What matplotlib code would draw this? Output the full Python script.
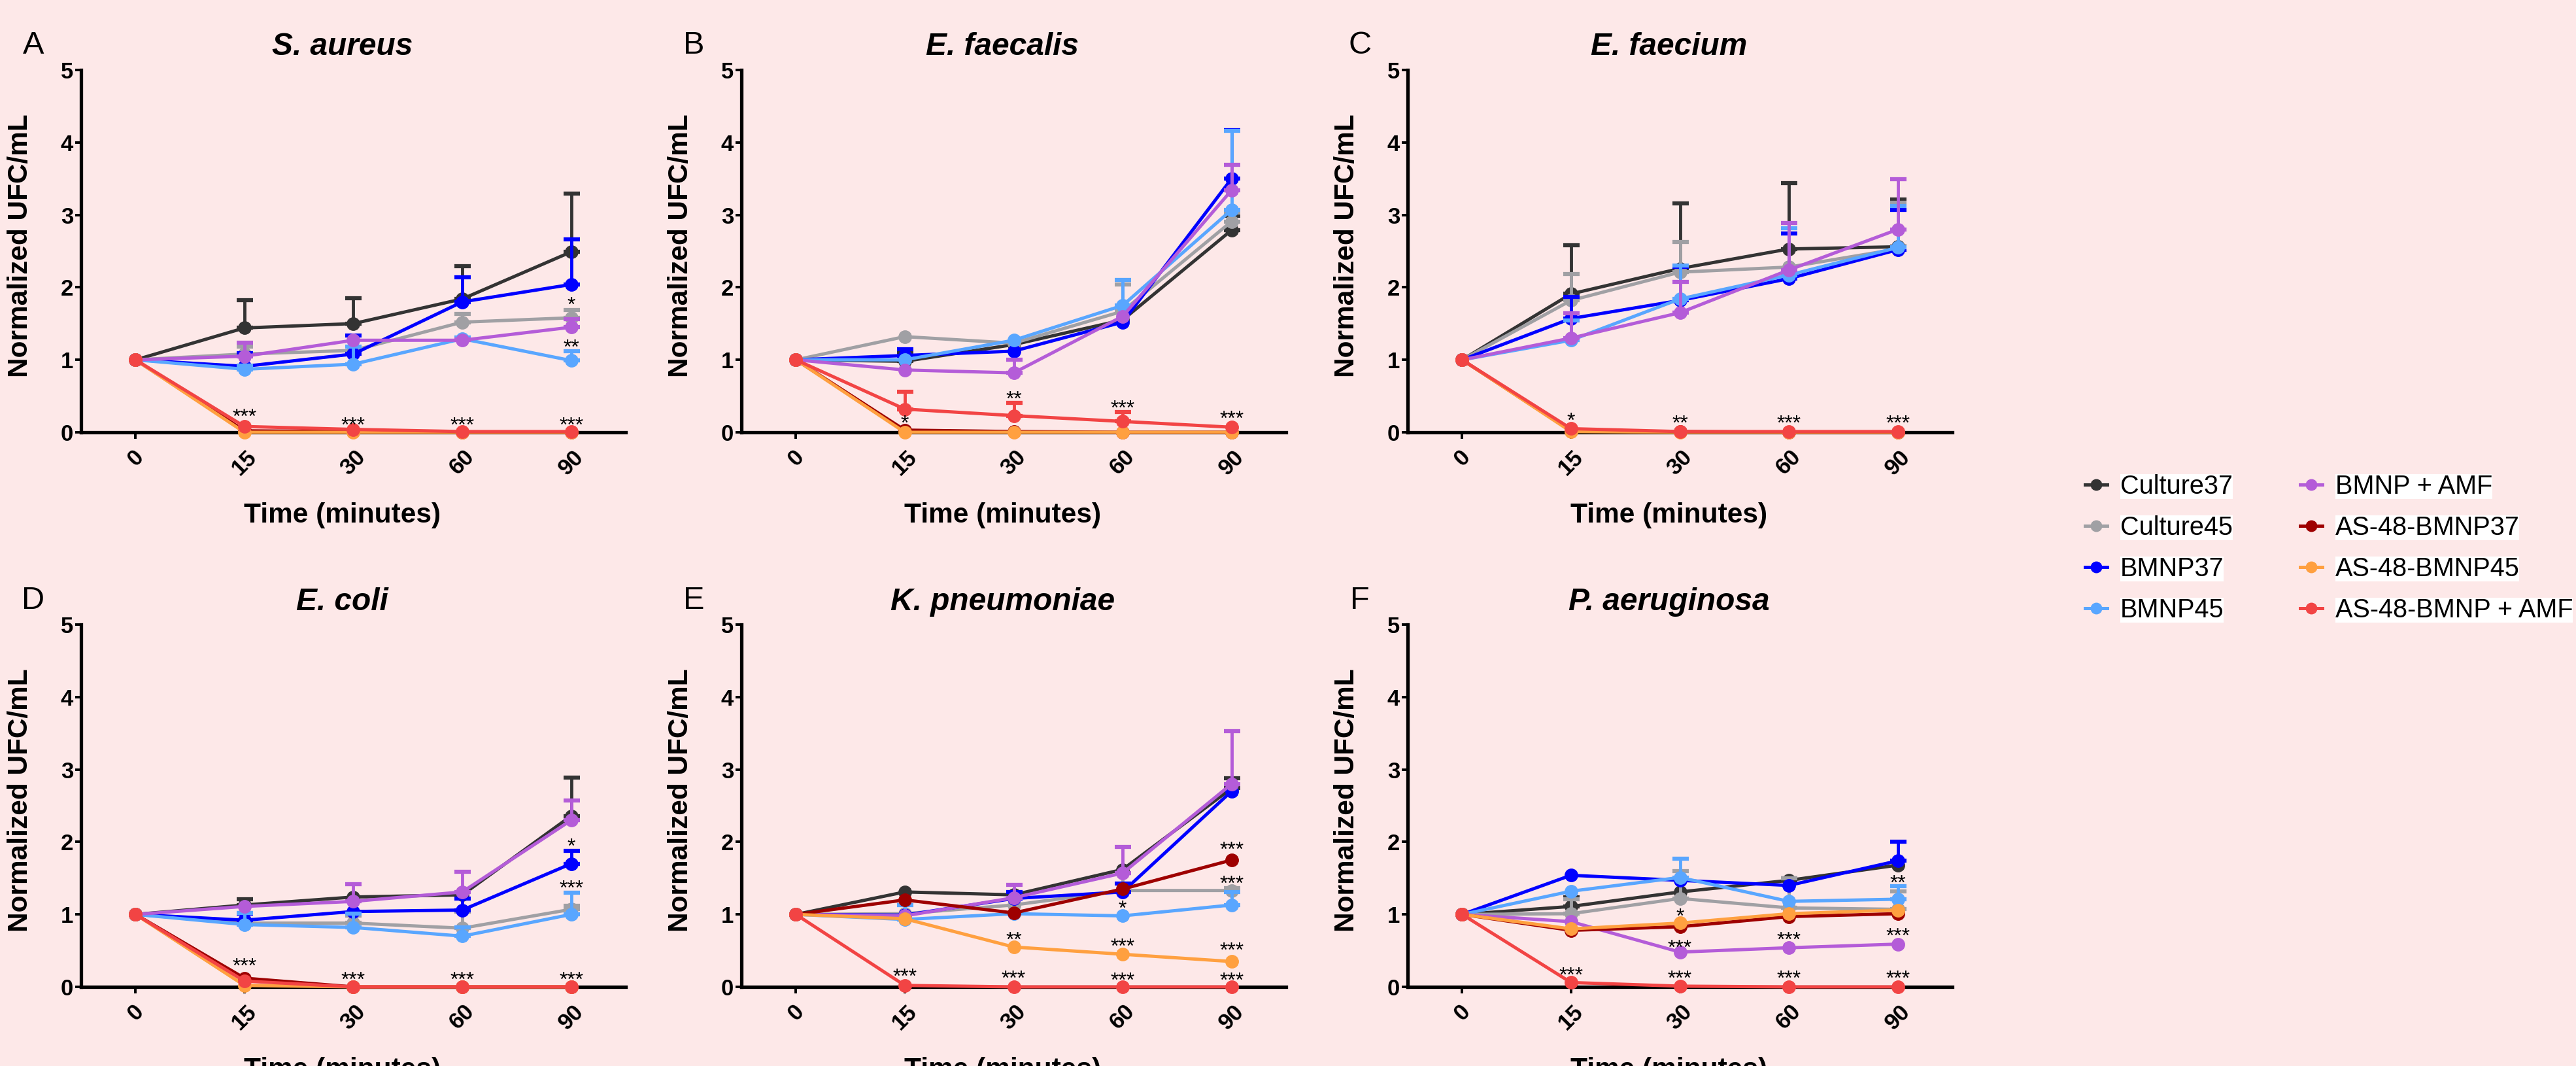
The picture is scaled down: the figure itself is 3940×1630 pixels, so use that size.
import matplotlib
matplotlib.use('Agg')
import matplotlib.pyplot as plt
import matplotlib.transforms as mtransforms
import numpy as np

plt.rcParams['font.family'] = ['Liberation Sans', 'DejaVu Sans']

# ---- data ----
time_labels = ['0', '15', '30', '60', '90']
series_names = ['Culture37', 'Culture45', 'BMNP37', 'BMNP45', 'BMNP + AMF',
                'AS-48-BMNP37', 'AS-48-BMNP45', 'AS-48-BMNP + AMF']
series_colors = ['#333333', '#A0A0A4', '#0000FF', '#59A6FF', '#B45CD8',
                 '#9E0000', '#FFA040', '#F24444']

titles = ['S. aureus', 'E. faecalis', 'E. faecium',
          'E. coli', 'K. pneumoniae', 'P. aeruginosa']
letters = ['A', 'B', 'C', 'D', 'E', 'F']

# mean values, one row per series (same order as series_names)
saureus_mean = [[1, 1.44, 1.50, 1.84, 2.49],
                [1, 1.08, 1.13, 1.52, 1.58],
                [1, 0.91, 1.08, 1.80, 2.04],
                [1, 0.87, 0.94, 1.29, 0.99],
                [1, 1.05, 1.27, 1.27, 1.45],
                [1, 0.02, 0.01, 0.00, 0.00],
                [1, 0.00, 0.00, 0.00, 0.00],
                [1, 0.08, 0.04, 0.01, 0.01]]
saureus_err = [[0, 0.38, 0.35, 0.45, 0.80],
               [0, 0.10, 0.00, 0.11, 0.11],
               [0, 0.18, 0.26, 0.34, 0.62],
               [0, 0.05, 0.24, 0.02, 0.13],
               [0, 0.19, 0.00, 0.01, 0.11],
               [0, 0, 0, 0, 0],
               [0, 0, 0, 0, 0],
               [0, 0, 0, 0, 0]]
saureus_stars = [(1, 0.28, '***'), (2, 0.16, '***'), (3, 0.16, '***'), (4, 0.16, '***'),
                 (4, 1.82, '*'), (4, 1.24, '**')]

efaecalis_mean = [[1, 0.98, 1.21, 1.55, 2.79],
                  [1, 1.32, 1.23, 1.67, 2.91],
                  [1, 1.06, 1.12, 1.52, 3.50],
                  [1, 1.00, 1.27, 1.75, 3.07],
                  [1, 0.86, 0.82, 1.60, 3.34],
                  [1, 0.03, 0.01, 0.00, 0.00],
                  [1, 0.00, 0.00, 0.00, 0.00],
                  [1, 0.32, 0.23, 0.15, 0.07]]
efaecalis_err = [[0, 0.12, 0.00, 0.00, 0.20],
                 [0, 0.00, 0.00, 0.37, 0.12],
                 [0, 0.09, 0.00, 0.00, 0.67],
                 [0, 0.00, 0.00, 0.35, 1.09],
                 [0, 0.00, 0.18, 0.00, 0.35],
                 [0, 0, 0, 0, 0],
                 [0, 0, 0, 0, 0],
                 [0, 0.24, 0.18, 0.13, 0.00]]
efaecalis_stars = [(1, 0.19, '*'), (2, 0.52, '**'), (3, 0.40, '***'), (4, 0.25, '***')]

efaecium_mean = [[1, 1.91, 2.26, 2.53, 2.56],
                 [1, 1.82, 2.21, 2.28, 2.53],
                 [1, 1.57, 1.82, 2.12, 2.52],
                 [1, 1.27, 1.84, 2.17, 2.55],
                 [1, 1.30, 1.65, 2.24, 2.80],
                 [1, 0.02, 0.01, 0.00, 0.00],
                 [1, 0.01, 0.00, 0.00, 0.00],
                 [1, 0.05, 0.01, 0.01, 0.01]]
efaecium_err = [[0, 0.67, 0.90, 0.91, 0.65],
                [0, 0.36, 0.42, 0.00, 0.64],
                [0, 0.30, 0.46, 0.62, 0.55],
                [0, 0.27, 0.46, 0.65, 0.57],
                [0, 0.34, 0.43, 0.65, 0.69],
                [0, 0, 0, 0, 0],
                [0, 0, 0, 0, 0],
                [0, 0, 0, 0, 0]]
efaecium_stars = [(1, 0.23, '*'), (2, 0.19, '**'), (3, 0.19, '***'), (4, 0.19, '***')]

ecoli_mean = [[1, 1.13, 1.24, 1.27, 2.36],
              [1, 0.88, 0.88, 0.81, 1.07],
              [1, 0.92, 1.04, 1.06, 1.70],
              [1, 0.86, 0.82, 0.70, 1.00],
              [1, 1.11, 1.18, 1.31, 2.30],
              [1, 0.12, 0.00, 0.00, 0.00],
              [1, 0.02, 0.00, 0.00, 0.00],
              [1, 0.08, 0.00, 0.00, 0.00]]
ecoli_err = [[0, 0.08, 0.00, 0.00, 0.53],
             [0, 0.14, 0.10, 0.23, 0.05],
             [0, 0.09, 0.00, 0.16, 0.18],
             [0, 0.16, 0.19, 0.12, 0.30],
             [0, 0.00, 0.24, 0.28, 0.27],
             [0, 0, 0, 0, 0],
             [0, 0, 0, 0, 0],
             [0, 0, 0, 0, 0]]
ecoli_stars = [(1, 0.35, '***'), (2, 0.16, '***'), (3, 0.16, '***'), (4, 0.16, '***'),
               (4, 2.00, '*'), (4, 1.43, '***')]

kpneu_mean = [[1, 1.31, 1.27, 1.62, 2.74],
              [1, 1.01, 1.13, 1.33, 1.33],
              [1, 0.99, 1.22, 1.31, 2.70],
              [1, 0.93, 1.01, 0.98, 1.13],
              [1, 0.98, 1.23, 1.57, 2.80],
              [1, 1.20, 1.02, 1.35, 1.75],
              [1, 0.94, 0.55, 0.45, 0.35],
              [1, 0.02, 0.00, 0.00, 0.00]]
kpneu_err = [[0, 0.00, 0.00, 0.00, 0.14],
             [0, 0.00, 0.00, 0.24, 0.03],
             [0, 0.00, 0.09, 0.12, 0.00],
             [0, 0.20, 0.00, 0.00, 0.18],
             [0, 0.00, 0.18, 0.36, 0.73],
             [0, 0, 0, 0, 0],
             [0, 0, 0, 0, 0],
             [0, 0, 0, 0, 0]]
kpneu_stars = [(1, 0.21, '***'), (2, 0.71, '**'), (2, 0.18, '***'),
               (3, 1.15, '*'), (3, 0.62, '***'), (3, 0.15, '***'),
               (4, 1.96, '***'), (4, 1.49, '***'), (4, 0.57, '***'), (4, 0.15, '***')]

paer_mean = [[1, 1.11, 1.31, 1.47, 1.68],
             [1, 1.01, 1.22, 1.09, 1.07],
             [1, 1.54, 1.47, 1.40, 1.74],
             [1, 1.32, 1.51, 1.18, 1.21],
             [1, 0.90, 0.48, 0.54, 0.59],
             [1, 0.78, 0.83, 0.97, 1.01],
             [1, 0.80, 0.88, 1.01, 1.06],
             [1, 0.06, 0.01, 0.00, 0.00]]
paer_err = [[0, 0.13, 0.00, 0.03, 0.00],
            [0, 0.20, 0.38, 0.41, 0.25],
            [0, 0.00, 0.00, 0.00, 0.26],
            [0, 0.00, 0.26, 0.00, 0.18],
            [0, 0, 0, 0, 0],
            [0, 0, 0, 0, 0],
            [0, 0, 0, 0, 0],
            [0, 0, 0, 0, 0]]
paer_stars = [(1, 0.23, '***'), (2, 1.04, '*'), (2, 0.61, '***'), (2, 0.18, '***'),
              (3, 0.71, '***'), (3, 0.18, '***'),
              (4, 1.50, '**'), (4, 0.77, '***'), (4, 0.18, '***')]

panel_means = [saureus_mean, efaecalis_mean, efaecium_mean, ecoli_mean, kpneu_mean, paer_mean]
panel_errs = [saureus_err, efaecalis_err, efaecium_err, ecoli_err, kpneu_err, paer_err]
panel_stars = [saureus_stars, efaecalis_stars, efaecium_stars, ecoli_stars, kpneu_stars, paer_stars]

# ---- figure ----
W, H = 3941, 1630
bg = '#FDE8E8'
fig = plt.figure(figsize=(W / 100, H / 100), dpi=100, facecolor=bg)

col_left = [124, 1134, 2153]   # pixel x of y-axis
row_top = [107, 955]           # pixel y of y=5
ax_w, ax_h = 833, 554

xpos = np.arange(len(time_labels))
shift = mtransforms.ScaledTranslation(-0.10, 0, fig.dpi_scale_trans)
handles = []

for p in range(6):
    r, c = divmod(p, 3)
    l, t = col_left[c], row_top[r]
    ax = fig.add_axes([l / W, 1 - (t + ax_h) / H, ax_w / W, ax_h / H])
    ax.set_facecolor('none')

    for k in range(len(series_names)):
        m = np.array(panel_means[p][k], dtype=float)
        e = np.array(panel_errs[p][k], dtype=float)
        if e.any():
            ax.errorbar(xpos[e > 0], m[e > 0], yerr=[np.zeros((e > 0).sum()), e[e > 0]],
                        fmt='none', ecolor=series_colors[k], elinewidth=3.5,
                        capsize=9, capthick=4.5, zorder=3 + k)
        ln, = ax.plot(xpos, m, '-o', color=series_colors[k], lw=3.6, ms=14,
                      clip_on=False, zorder=3 + k, label=series_names[k])
        if p == 0:
            handles.append(ln)

    for xi, yv, s in panel_stars[p]:
        ax.annotate(s, (xi, yv), xytext=(0, -9), textcoords='offset pixels',
                    ha='center', va='center', fontsize=23, zorder=20)

    ax.set_xlim(-0.5, 4.5)
    ax.set_ylim(0, 5)
    for side in ['top', 'right']:
        ax.spines[side].set_visible(False)
    for side in ['left', 'bottom']:
        ax.spines[side].set_linewidth(3.8)
    ax.set_yticks(range(6))
    ax.set_yticklabels([str(v) for v in range(6)], fontweight='bold', fontsize=25)
    ax.set_xticks(xpos)
    ax.set_xticklabels(time_labels, rotation=45, fontweight='bold', fontsize=25)
    for lbl in ax.get_xticklabels():
        lbl.set_transform(lbl.get_transform() + shift)
    ax.tick_params(axis='y', length=6.5, width=2.8, pad=2)
    ax.tick_params(axis='x', length=7, width=2.8, pad=8)

    ax.set_ylabel('Normalized UFC/mL', fontsize=30.5, fontweight='bold')
    ax.yaxis.set_label_coords(-0.088, 0.515)
    ax.set_xlabel('Time (minutes)', fontsize=30.5, fontweight='bold')
    ax.xaxis.set_label_coords(0.48, -0.193)

    ty = (71 if r == 0 else 921)
    fig.text((l + ax_w / 2 - 17) / W, 1 - ty / H, titles[p], fontsize=34.5,
             fontweight='bold', fontstyle='italic', ha='center', va='center')
    fig.text((l - 73) / W, 1 - (ty - 2) / H, letters[p], fontsize=35,
             ha='center', va='center')

leg = fig.legend(handles, series_names, ncol=2, frameon=False, fontsize=28.5,
                 loc='upper left', bbox_to_anchor=(3189 / W, 1 - 725 / H),
                 borderpad=0, borderaxespad=0, handlelength=0.86,
                 handletextpad=0.5, labelspacing=0.63, columnspacing=2.6,
                 markerscale=0.85)
for txt in leg.get_texts():
    txt.set_bbox(dict(facecolor='white', edgecolor='none', pad=0))

fig.savefig('out.png', dpi=100, facecolor=bg)
